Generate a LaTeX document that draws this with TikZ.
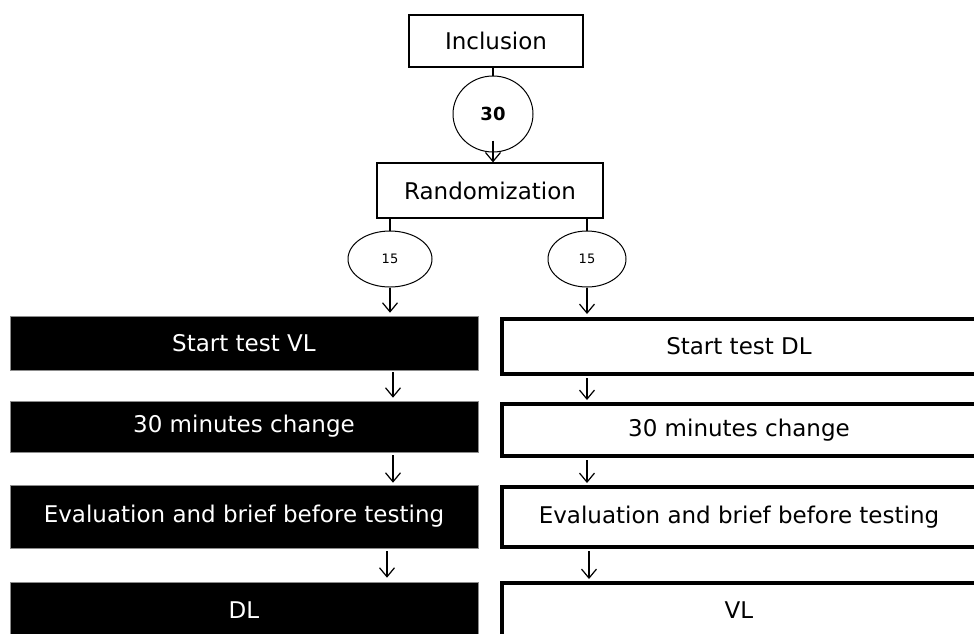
\documentclass[tikz,border=0pt]{standalone}
\usepackage{fontspec}
\setmainfont{DejaVu Sans}
\usetikzlibrary{arrows.meta,shapes.geometric}
\begin{document}
\begin{tikzpicture}[x=1pt,y=-1pt,
  mainfont/.style={font=\fontsize{23}{27}\selectfont},
  topbox/.style={draw=black,line width=1.2pt,fill=white,inner sep=0pt,mainfont},
  oval/.style={draw=black,line width=1pt,ellipse,inner sep=0pt},
  darkbox/.style={draw=black!45,line width=0.6pt,fill=black,text=white,inner sep=0pt,minimum width=468pt,mainfont},
  lightbox/.style={draw=black,line width=4pt,fill=white,inner sep=0pt,minimum width=474pt,mainfont},
  conn/.style={line width=1.2pt},
  arr/.style={line width=1.2pt,-{Straight Barb[length=9pt,width=15pt,line width=1.2pt]}}]
\useasboundingbox (0,0) rectangle (974,633);
\clip (0,0) rectangle (974,633);
\node[topbox,minimum width=174pt,minimum height=52pt] (inc) at (496,41) {Inclusion};
\node[oval,minimum width=80pt,minimum height=76pt,font=\fontsize{18}{21}\selectfont\bfseries] (c30) at (493,114) {30};
\node[topbox,minimum width=226pt,minimum height=55pt] (rand) at (490,190.5) {Randomization};
\node[oval,minimum width=84pt,minimum height=56pt,font=\fontsize{13}{15}\selectfont] (cl) at (390,259) {15};
\node[oval,minimum width=78pt,minimum height=56pt,font=\fontsize{13}{15}\selectfont] (cr) at (587,259) {15};
% left column
\node[darkbox,minimum height=54pt] (l1) at (244,343) {Start test VL};
\node[darkbox,minimum height=51pt] (l2) at (244,426.5) {30 minutes change};
\node[darkbox,minimum height=63pt] (l3) at (244,516.5) {Evaluation and brief before testing};
\node[darkbox,minimum height=56pt] (l4) at (244,610) {DL};
% right column
\node[lightbox,minimum height=55pt] (r1) at (739,346.5) {Start test DL};
\node[lightbox,minimum height=52pt] (r2) at (739,430) {30 minutes change};
\node[lightbox,minimum height=60pt] (r3) at (739,517) {Evaluation and brief before testing};
\node[lightbox,minimum height=54pt] (r4) at (739,610) {VL};
% connectors
\draw[conn] (inc.south -| c30.north) -- (c30.north);
\draw[arr] ([yshift=12pt]c30.south) -- (c30.south |- rand.north);
\draw[conn] (rand.south -| cl.north) -- (cl.north);
\draw[conn] (rand.south -| cr.north) -- (cr.north);
\draw[arr,shorten >=3pt] (cl.south) -- (cl.south |- l1.north);
\draw[arr,shorten >=3pt] (cr.south) -- (cr.south |- r1.north);
\draw[arr,shorten <=2pt,shorten >=3pt] (l1.south -| 393,0) -- (l2.north -| 393,0);
\draw[arr,shorten <=3pt,shorten >=2pt] (l2.south -| 393,0) -- (l3.north -| 393,0);
\draw[arr,shorten <=3pt,shorten >=4pt] (l3.south -| 387,0) -- (l4.north -| 387,0);
\draw[arr,shorten <=2pt,shorten >=2pt] (r1.south -| 587,0) -- (r2.north -| 587,0);
\draw[arr,shorten <=2pt,shorten >=2pt] (r2.south -| 587,0) -- (r3.north -| 587,0);
\draw[arr,shorten <=2pt,shorten >=2pt] (r3.south -| 589,0) -- (r4.north -| 589,0);
\end{tikzpicture}
\end{document}
